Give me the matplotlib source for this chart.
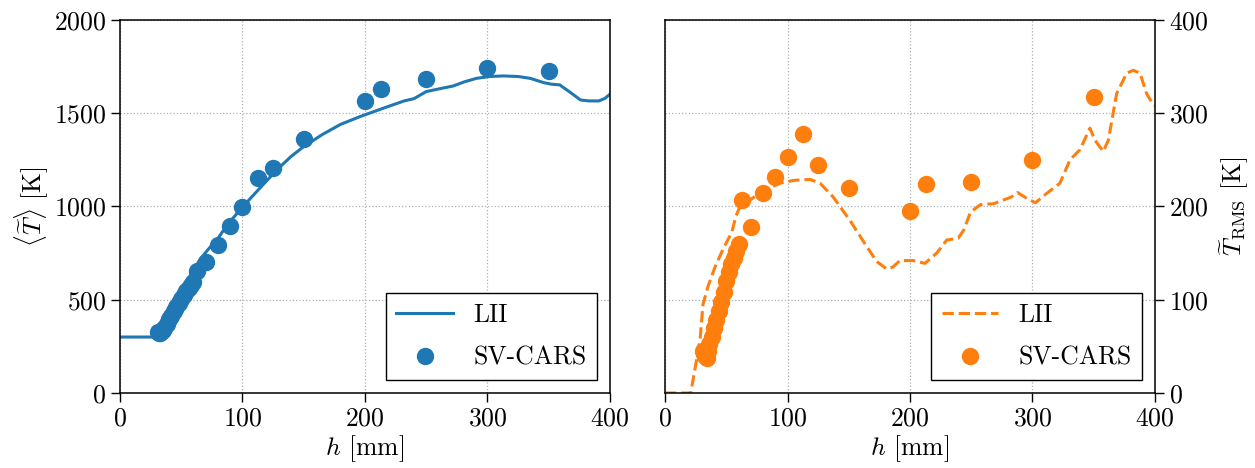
import matplotlib
matplotlib.use("Agg")
import matplotlib.pyplot as plt

# LII profiles along the axis
h_lii_mean = [0, 28, 31, 36, 43.5, 55, 65, 72, 79, 88, 98, 106, 114, 128, 140, 150,
              165, 180, 196, 215, 232, 240, 250, 260, 272, 281, 291, 302, 313,
              325, 335, 346, 352, 359, 368, 376, 383, 391, 396, 400]
T_lii_mean = [300, 300, 310, 380, 463, 600, 713, 770, 820, 905, 981, 1040, 1097, 1196,
              1270, 1321, 1385, 1440, 1482, 1527, 1566, 1578, 1616, 1630, 1646, 1668,
              1687, 1697, 1700, 1697, 1687, 1664, 1656, 1652, 1610, 1571, 1566, 1566,
              1580, 1602]

h_lii_rms = [0, 21, 25, 28.6, 31, 35, 40.8, 47.6, 54.4, 58, 61.2, 69.4, 80.2, 93.9,
             105, 118.4, 126.5, 137.4, 151, 164.7, 172.8, 181, 186, 191.8, 202.7,
             212.2, 221.8, 230, 239.4, 244, 249.4, 257.6, 268.4, 282.4, 287.8, 295,
             302.4, 311.6, 322.4, 330.6, 338.8, 346.9, 351, 357.8, 361.9, 368.7,
             376.9, 382.3, 387.8, 393.2, 398.6, 400]
T_lii_rms = [0, 0, 30, 57, 95, 114, 135, 155, 172, 190, 200, 207, 217, 225, 228, 229,
             225, 210, 185, 157, 141, 133, 135, 142, 142, 139, 150, 164, 166, 175,
             194, 202, 203, 210, 215, 209, 204, 214, 225, 250, 261, 284, 271, 259,
             271, 321, 343, 346, 343, 321, 309, 308]

# SV-CARS measurements
h_cars = [31, 32, 33, 34, 35, 36, 38, 40, 42, 44, 46, 48, 50, 52, 54, 56, 58, 60,
          63, 70, 80, 90, 100, 113, 125, 150, 200, 213, 250, 300, 350]
T_cars_mean = [325, 320, 322, 330, 340, 350, 370, 395, 415, 440, 460, 480, 505, 525,
               545, 565, 580, 595, 655, 700, 795, 895, 998, 1153, 1208, 1360, 1567,
               1628, 1686, 1745, 1725]
T_cars_rms = [45, 42, 40, 38, 45, 52, 60, 70, 78, 88, 98, 108, 120, 130, 138, 145,
              152, 160, 207, 178, 214, 232, 253, 278, 245, 220, 195, 224, 226, 250, 317]

plt.rcParams.update({
    "font.family": "serif",
    "font.serif": ["cmr10"],
    "mathtext.fontset": "cm",
    "axes.formatter.use_mathtext": True,
    "font.size": 18.5,
    "axes.linewidth": 1.1,
    "xtick.major.size": 6.5,
    "ytick.major.size": 6.5,
    "xtick.major.width": 1.0,
    "ytick.major.width": 1.0,
})

BLUE = "#1f77b4"
ORANGE = "#ff7f0e"

fig = plt.figure(figsize=(12.55, 4.68), dpi=100)
ax1 = fig.add_axes([0.0956, 0.1603, 0.3904, 0.797])
ax2 = fig.add_axes([0.5299, 0.1603, 0.3904, 0.797])

ax1.plot(h_lii_mean, T_lii_mean, color=BLUE, lw=2.2, label="LII")
ax1.plot(h_cars, T_cars_mean, "o", color=BLUE, ms=11.5, label="SV-CARS")
ax1.set_xlim(0, 400)
ax1.set_ylim(0, 2000)
ax1.set_xticks([0, 100, 200, 300, 400])
ax1.set_yticks([0, 500, 1000, 1500, 2000])
ax1.set_xlabel(r"$h$ [mm]", labelpad=2)
ax1.set_ylabel(r"$\langle\widetilde{T}\rangle$ [K]", labelpad=3)

ax2.plot(h_lii_rms, T_lii_rms, "--", color=ORANGE, lw=2.2, label="LII")
ax2.plot(h_cars, T_cars_rms, "o", color=ORANGE, ms=11.5, label="SV-CARS")
ax2.set_xlim(0, 400)
ax2.set_ylim(0, 400)
ax2.set_xticks([0, 100, 200, 300, 400])
ax2.set_yticks([0, 100, 200, 300, 400])
ax2.yaxis.tick_right()
ax2.yaxis.set_label_position("right")
ax2.set_xlabel(r"$h$ [mm]", labelpad=2)
ax2.set_ylabel(r"$\widetilde{T}_{\mathrm{RMS}}$ [K]", labelpad=6)

for ax in (ax1, ax2):
    ax.grid(True, ls=":", color="#b0b0b0", lw=0.9)
    ax.set_axisbelow(True)
    leg = ax.legend(loc="lower right", fancybox=False, framealpha=1,
                    edgecolor="black", handlelength=2.2, labelspacing=0.75)
    leg.get_frame().set_linewidth(1.0)

fig.savefig("out.png", dpi=100)
